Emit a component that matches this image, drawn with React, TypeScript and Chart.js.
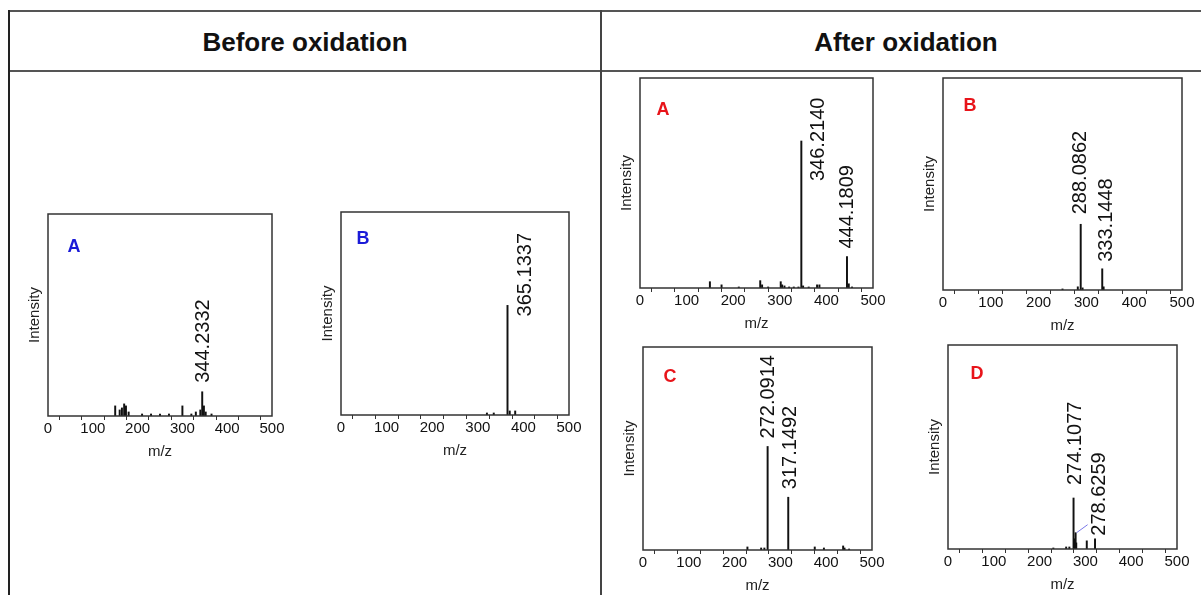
import React, { useEffect, useRef } from "react";
import { Chart, registerables } from "chart.js";

Chart.register(...registerables);

const FONT = "'Liberation Sans', Arial, Helvetica, sans-serif";

// m/z axis
const mzMin = 0;
const mzMax = 500;
const mzStep = 50;
const mzLabelStep = 100;

// Before oxidation, compound A
const beforeA_mz = [150, 160, 165, 170, 174, 180, 210, 230, 250, 270, 300, 320, 330, 340, 344.2332, 348, 352, 365];
const beforeA_int = [5, 3, 4, 6, 5, 2, 1, 1, 1, 1, 5, 1, 2, 3, 12, 5, 2, 1];
const beforeA_peaks = [344.2332];

// Before oxidation, compound B
const beforeB_mz = [320, 335, 365.1337, 370, 382];
const beforeB_int = [1, 1, 54, 2, 2];
const beforeB_peaks = [365.1337];

// After oxidation, compound A
const afterA_mz = [150, 175, 212, 258, 262, 275, 302, 305, 310, 320, 330, 340, 346.214, 350, 362, 380, 385, 444.1809, 448, 455];
const afterA_int = [3, 1.5, 0.5, 3.5, 1.5, 0.5, 3, 1.5, 1, 0.5, 0.5, 0.5, 70, 1, 0.5, 1.5, 1.5, 15, 2, 0.5];
const afterA_peaks = [346.214, 444.1809];

// After oxidation, compound B
const afterB_mz = [250, 282, 288.0862, 292, 333.1448, 336];
const afterB_int = [0.5, 1.5, 31, 1, 10, 1.5];
const afterB_peaks = [288.0862, 333.1448];

// After oxidation, compound C
const afterC_mz = [228, 258, 265, 272.0914, 317.1492, 375, 395, 437, 440, 450];
const afterC_int = [1.5, 1, 1, 51, 26, 1.5, 1, 2, 1, 0.5];
const afterC_peaks = [272.0914, 317.1492];

// After oxidation, compound D
const afterD_mz = [230, 258, 265, 274.1077, 275.5, 277, 278.6259, 280, 303, 321];
const afterD_int = [0.5, 1, 1, 25, 5, 4, 8, 3, 4, 5];
const afterD_peaks = [274.1077, 278.6259];

const BLUE = "#1b1bd8";
const RED = "#e8141a";

type Place = { dx: number; gap: number; leader?: boolean };

type PanelCfg = {
  letter: string;
  letterColor: string;
  mz: number[];
  intensity: number[];
  peaks: number[];
  place: Place[];
  plot: { left: number; top: number; right: number; bottom: number };
  letterPos: { dx: number; dy: number };
};

const panels: PanelCfg[] = [
  {
    letter: "A", letterColor: BLUE, mz: beforeA_mz, intensity: beforeA_int, peaks: beforeA_peaks,
    place: [{ dx: 0, gap: 9 }],
    plot: { left: 48, top: 214, right: 272, bottom: 416 }, letterPos: { dx: 26, dy: 33 },
  },
  {
    letter: "B", letterColor: BLUE, mz: beforeB_mz, intensity: beforeB_int, peaks: beforeB_peaks,
    place: [{ dx: 17, gap: -11 }],
    plot: { left: 341, top: 212, right: 569, bottom: 415 }, letterPos: { dx: 22, dy: 27 },
  },
  {
    letter: "A", letterColor: RED, mz: afterA_mz, intensity: afterA_int, peaks: afterA_peaks,
    place: [{ dx: 16, gap: -40 }, { dx: -1, gap: 8 }],
    plot: { left: 640, top: 78, right: 873, bottom: 288 }, letterPos: { dx: 23, dy: 32 },
  },
  {
    letter: "B", letterColor: RED, mz: afterB_mz, intensity: afterB_int, peaks: afterB_peaks,
    place: [{ dx: -1, gap: 10 }, { dx: 3, gap: 7 }],
    plot: { left: 943, top: 78, right: 1182, bottom: 290 }, letterPos: { dx: 27, dy: 28 },
  },
  {
    letter: "C", letterColor: RED, mz: afterC_mz, intensity: afterC_int, peaks: afterC_peaks,
    place: [{ dx: 0, gap: 8 }, { dx: 1, gap: 8 }],
    plot: { left: 643, top: 347, right: 872, bottom: 550 }, letterPos: { dx: 27, dy: 30 },
  },
  {
    letter: "D", letterColor: RED, mz: afterD_mz, intensity: afterD_int, peaks: afterD_peaks,
    place: [{ dx: 1, gap: 13 }, { dx: 23, gap: -3, leader: true }],
    plot: { left: 948, top: 345, right: 1177, bottom: 549 }, letterPos: { dx: 29, dy: 29 },
  },
];

// canvas margins around the plot box
const AXIS_LEFT = 22;
const AXIS_BOTTOM = 45;
const PAD_TOP = 2;
const PAD_RIGHT = 16;

const framePlugin = {
  id: "frameBox",
  afterDraw(chart: any) {
    const { ctx, chartArea } = chart;
    ctx.save();
    ctx.strokeStyle = "#333";
    ctx.lineWidth = 1.5;
    ctx.strokeRect(chartArea.left, chartArea.top, chartArea.right - chartArea.left, chartArea.bottom - chartArea.top);
    ctx.restore();
  },
};

const annotatePlugin = {
  id: "peakNotes",
  afterDatasetsDraw(chart: any, _args: any, opts: any) {
    const { ctx, chartArea } = chart;
    const xs = chart.scales.x;
    const ys = chart.scales.y;
    const data = chart.data.datasets[0].data as { x: number; y: number }[];
    ctx.save();
    // panel letter
    ctx.font = `bold 18px ${FONT}`;
    ctx.fillStyle = opts.letterColor;
    ctx.textAlign = "center";
    ctx.textBaseline = "middle";
    ctx.fillText(opts.letter, chartArea.left + opts.letterPos.dx, chartArea.top + opts.letterPos.dy);
    // rotated peak labels
    (opts.peaks as number[]).forEach((p, i) => {
      const pt = data.find((d) => d.x === p);
      if (!pt) return;
      const px = xs.getPixelForValue(p);
      const py = ys.getPixelForValue(pt.y);
      const pl: Place = opts.place[i] || { dx: 0, gap: 9 };
      if (pl.leader) {
        ctx.strokeStyle = "#7a78e8";
        ctx.lineWidth = 1;
        ctx.beginPath();
        ctx.moveTo(px + 1, py);
        ctx.lineTo(px + 12, py - 8);
        ctx.stroke();
      }
      ctx.save();
      ctx.translate(px + pl.dx, py - pl.gap);
      ctx.rotate(-Math.PI / 2);
      ctx.font = `20px ${FONT}`;
      ctx.fillStyle = "#111";
      ctx.textAlign = "left";
      ctx.textBaseline = "middle";
      ctx.fillText(p.toFixed(4), 0, 1);
      ctx.restore();
    });
    ctx.restore();
  },
};

function Spectrum({ cfg }: { cfg: PanelCfg }) {
  const ref = useRef<HTMLCanvasElement | null>(null);
  const { plot } = cfg;
  const w = plot.right - plot.left + AXIS_LEFT + PAD_RIGHT;
  const h = plot.bottom - plot.top + PAD_TOP + AXIS_BOTTOM;

  useEffect(() => {
    if (!ref.current) return;
    const chart = new Chart(ref.current, {
      type: "bar",
      data: {
        datasets: [
          {
            data: cfg.mz.map((m, i) => ({ x: m, y: cfg.intensity[i] })),
            backgroundColor: "#111",
            borderWidth: 0,
            barThickness: 1.3,
          },
        ],
      },
      options: {
        responsive: false,
        animation: false,
        devicePixelRatio: 1,
        layout: { padding: { top: PAD_TOP, right: PAD_RIGHT, left: 0, bottom: 0 } },
        plugins: {
          legend: { display: false },
          tooltip: { enabled: false },
          peakNotes: {
            letter: cfg.letter,
            letterColor: cfg.letterColor,
            letterPos: cfg.letterPos,
            peaks: cfg.peaks,
            place: cfg.place,
          },
        } as any,
        scales: {
          x: {
            type: "linear",
            min: mzMin,
            max: mzMax,
            offset: false,
            grid: {
              display: true,
              drawOnChartArea: false,
              drawTicks: true,
              tickLength: 4,
              tickColor: "#333",
              tickWidth: 1,
            },
            border: { display: false },
            ticks: {
              stepSize: mzStep,
              autoSkip: false,
              maxRotation: 0,
              padding: 0,
              color: "#111",
              font: { family: FONT, size: 15 },
              callback: (v: any) => (Number(v) % mzLabelStep === 0 ? String(v) : ""),
            },
            title: {
              display: true,
              text: "m/z",
              color: "#222",
              padding: 0,
              font: { family: FONT, size: 15 },
            },
            afterFit: (s: any) => {
              s.height = AXIS_BOTTOM;
            },
          },
          y: {
            min: 0,
            max: 100,
            grid: { display: false },
            border: { display: false },
            ticks: { display: false },
            title: {
              display: true,
              text: "Intensity",
              color: "#222",
              padding: 0,
              font: { family: FONT, size: 15 },
            },
            afterFit: (s: any) => {
              s.width = AXIS_LEFT;
            },
          },
        },
      },
      plugins: [framePlugin, annotatePlugin],
    });
    return () => chart.destroy();
  }, []);

  return (
    <canvas
      ref={ref}
      width={w}
      height={h}
      style={{
        position: "absolute",
        left: plot.left - AXIS_LEFT,
        top: plot.top - PAD_TOP,
        width: w,
        height: h,
      }}
    />
  );
}

const line = (style: React.CSSProperties): React.CSSProperties => ({ position: "absolute", ...style });

export default function App() {
  return (
    <div
      style={{
        position: "absolute",
        left: 0,
        top: 0,
        width: 1201,
        height: 595,
        overflow: "hidden",
        background: "#fff",
        fontFamily: FONT,
      }}
    >
      {/* table rules */}
      <div style={line({ left: 8, top: 10, width: 1210, height: 2, background: "#555" })} />
      <div style={line({ left: 8, top: 70, width: 1210, height: 2, background: "#555" })} />
      <div style={line({ left: 8, top: 10, width: 2, height: 600, background: "#222" })} />
      <div style={line({ left: 600, top: 10, width: 2, height: 600, background: "#444" })} />

      {/* column headers */}
      <div
        style={line({
          left: 10, top: 12, width: 590, height: 60,
          display: "flex", alignItems: "center", justifyContent: "center",
          fontWeight: "bold", fontSize: 26, color: "#111",
        })}
      >
        Before oxidation
      </div>
      <div
        style={line({
          left: 602, top: 12, width: 608, height: 60,
          display: "flex", alignItems: "center", justifyContent: "center",
          fontWeight: "bold", fontSize: 26, color: "#111",
        })}
      >
        After oxidation
      </div>

      {panels.map((p, i) => (
        <Spectrum key={i} cfg={p} />
      ))}
    </div>
  );
}
